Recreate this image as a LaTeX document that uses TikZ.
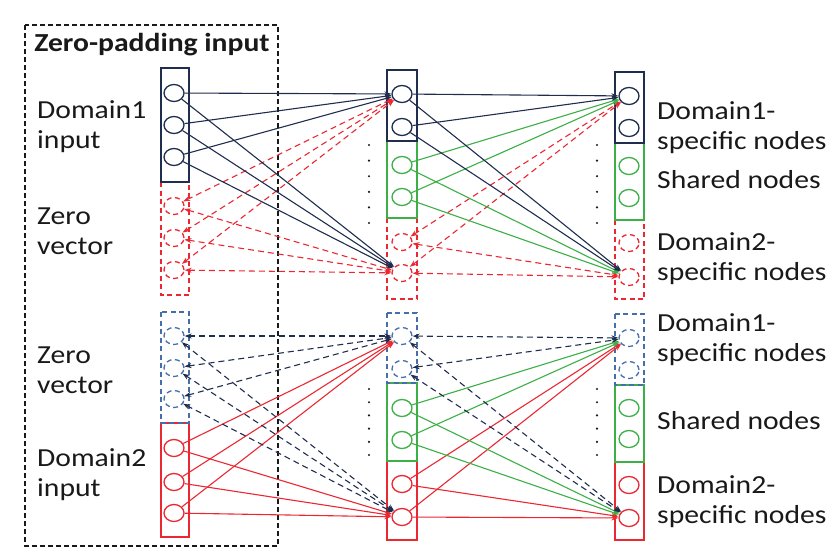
\documentclass[tikz,border=0pt]{standalone}
\usepackage{fontspec}
\setmainfont{Carlito}[FakeStretch=1.14]
\usetikzlibrary{arrows.meta,shapes.geometric}
\definecolor{navy}{RGB}{31,45,78}
\definecolor{myred}{RGB}{235,40,50}
\definecolor{mygreen}{RGB}{60,175,70}
\definecolor{myblue}{RGB}{70,110,170}
\definecolor{txt}{RGB}{25,25,25}
\begin{document}
\begin{tikzpicture}[x=1pt,y=-1pt,
  neur/.style={ellipse, draw, minimum width=20pt, minimum height=17pt, inner sep=0pt, line width=1.3pt},
  dsh/.style={dash pattern=on 5pt off 3.5pt},
  boxline/.style={line width=1.4pt},
  conn/.style={line width=1.1pt, -{Stealth[length=7pt,width=5pt]}},
  dconn/.style={line width=1.1pt, dash pattern=on 6pt off 4pt, {Stealth[length=7pt,width=5pt]}-{Stealth[length=7pt,width=5pt]}},
  lbl/.style={anchor=west, align=left, font=\fontsize{26}{30}\selectfont, text=txt, inner sep=0pt},
  dotmark/.style={circle, fill=txt, inner sep=0pt, minimum size=2.4pt}
]
\useasboundingbox (0,0) rectangle (839,560);

% outer dashed box
\draw[txt, line width=1.2pt, dash pattern=on 5pt off 3pt] (25,25) rectangle (278,546);
\node[font=\fontsize{26}{28}\selectfont\bfseries, text=txt] (title) at (152,45) {Zero-padding input};

% ---------- boxes ----------
\draw[myred, boxline, dsh] (161,182) rectangle (189,295);
\draw[navy, boxline] (161,68) rectangle (189,182);
\draw[myred, boxline] (161,423) rectangle (189,537);
\draw[myblue, boxline, dsh] (161,312) rectangle (189,423);
\draw[myred, boxline, dsh] (387,218) rectangle (417,299);
\draw[mygreen, boxline] (387,141) rectangle (417,218);
\draw[navy, boxline] (387,70) rectangle (417,141);
\draw[myred, boxline] (387,461) rectangle (417,540);
\draw[mygreen, boxline] (387,383) rectangle (417,461);
\draw[myblue, boxline, dsh] (387,313) rectangle (417,383);
\draw[myred, boxline, dsh] (615,220) rectangle (644,299);
\draw[mygreen, boxline] (615,143) rectangle (644,220);
\draw[navy, boxline] (615,72) rectangle (644,143);
\draw[myred, boxline] (615,462) rectangle (644,540);
\draw[mygreen, boxline] (615,385) rectangle (644,462);
\draw[myblue, boxline, dsh] (615,314) rectangle (644,385);

% ---------- neurons ----------
\node[neur, navy] (la1) at (174,93) {};
\node[neur, navy] (la2) at (174,125) {};
\node[neur, navy] (la3) at (174,157) {};
\node[neur, myred, dsh] (za1) at (174,206) {};
\node[neur, myred, dsh] (za2) at (174,238) {};
\node[neur, myred, dsh] (za3) at (174,270) {};

\node[neur, myblue, dsh] (zb1) at (174,336) {};
\node[neur, myblue, dsh] (zb2) at (174,368) {};
\node[neur, myblue, dsh] (zb3) at (174,399) {};
\node[neur, myred] (db1) at (174,448) {};
\node[neur, myred] (db2) at (174,482) {};
\node[neur, myred] (db3) at (174,513) {};

\node[neur, navy] (ma1) at (402,94) {};
\node[neur, navy] (ma2) at (402,127) {};
\node[neur, mygreen] (mg1) at (402,165) {};
\node[neur, mygreen] (mg2) at (402,197) {};
\node[neur, myred, dsh] (mr1) at (402,242) {};
\node[neur, myred, dsh] (mr2) at (402,273) {};

\node[neur, myblue, dsh] (mb1) at (402,336) {};
\node[neur, myblue, dsh] (mb2) at (402,369) {};
\node[neur, mygreen] (mh1) at (402,408) {};
\node[neur, mygreen] (mh2) at (402,440) {};
\node[neur, myred] (ms1) at (402,484) {};
\node[neur, myred] (ms2) at (402,517) {};

\node[neur, navy] (ra1) at (629,96) {};
\node[neur, navy] (ra2) at (629,128) {};
\node[neur, mygreen] (rg1) at (629,166) {};
\node[neur, mygreen] (rg2) at (629,198) {};
\node[neur, myred, dsh] (rr1) at (629,243) {};
\node[neur, myred, dsh] (rr2) at (629,277) {};

\node[neur, myblue, dsh] (rb1) at (629,338) {};
\node[neur, myblue, dsh] (rb2) at (629,370) {};
\node[neur, mygreen] (rh1) at (629,408) {};
\node[neur, mygreen] (rh2) at (629,439) {};
\node[neur, myred] (rs1) at (629,485) {};
\node[neur, myred] (rs2) at (629,518) {};

% ---------- connectors, top half ----------
\foreach \s in {za1,za2,za3} {
  \draw[dconn, myred] (\s) -- (ma1);
  \draw[dconn, myred] (\s) -- (mr2);
}
\foreach \s in {la1,la2,la3} {
  \draw[conn, navy] (\s) -- (ma1);
  \draw[conn, navy] (\s) -- (mr2);
}
\foreach \s in {mr1,mr2} {
  \draw[dconn, myred] (\s) -- (ra1);
  \draw[dconn, myred] (\s) -- (rr2);
}
\foreach \s in {mg1,mg2} {
  \draw[conn, mygreen] (\s) -- (ra1);
  \draw[conn, mygreen] (\s) -- (rr2);
}
\foreach \s in {ma1,ma2} {
  \draw[conn, navy] (\s) -- (ra1);
  \draw[conn, navy] (\s) -- (rr2);
}

% ---------- connectors, bottom half ----------
\foreach \s in {db1,db2,db3} {
  \draw[conn, myred] (\s) -- (mb1);
  \draw[conn, myred] (\s) -- (ms2);
}
\foreach \s in {zb1,zb2,zb3} {
  \draw[dconn, navy] (\s) -- (mb1);
  \draw[dconn, navy] (\s) -- (ms2);
}
\foreach \s in {ms1,ms2} {
  \draw[conn, myred] (\s) -- (rb1);
  \draw[conn, myred] (\s) -- (rs2);
}
\foreach \s in {mh1,mh2} {
  \draw[conn, mygreen] (\s) -- (rb1);
  \draw[conn, mygreen] (\s) -- (rs2);
}
\foreach \s in {mb1,mb2} {
  \draw[dconn, navy] (\s) -- (rb1);
  \draw[dconn, navy] (\s) -- (rs2);
}

% ---------- dots ----------
\foreach \xx in {369,597} {
  \foreach \yy in {145,160.6,176.2,191.8,207.4,223} {
    \node[dotmark] at (\xx,\yy) {};
  }
  \foreach \yy in {389,402.2,415.4,428.6,441.8,455} {
    \node[dotmark] at (\xx,\yy) {};
  }
}

% ---------- labels ----------
\node[lbl] (l1) at (37,127) {Domain1\\input};
\node[lbl] (l2) at (37,231) {Zero\\vector};
\node[lbl] (l3) at (37,370) {Zero\\vector};
\node[lbl] (l4) at (37,475) {Domain2\\input};

\node[lbl] (r1) at (657,128) {Domain1-\\specific nodes};
\node[lbl] (r2) at (657,180) {Shared nodes};
\node[lbl] (r3) at (657,259) {Domain2-\\specific nodes};
\node[lbl] (r4) at (657,340) {Domain1-\\specific nodes};
\node[lbl] (r5) at (657,421) {Shared nodes};
\node[lbl] (r6) at (657,502) {Domain2-\\specific nodes};
\end{tikzpicture}
\end{document}
